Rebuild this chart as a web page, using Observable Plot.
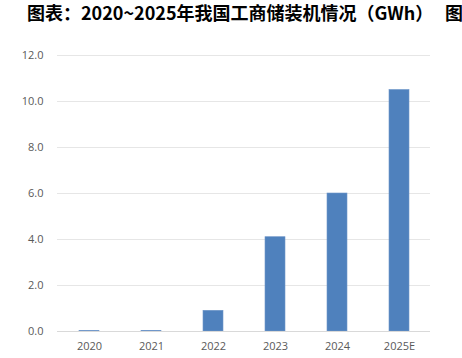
<!DOCTYPE html>
<html><head><meta charset="utf-8">
<script src="https://cdn.jsdelivr.net/npm/d3@7"></script>
<script src="https://cdn.jsdelivr.net/npm/@observablehq/plot@0.6"></script>
<style>
body{margin:0;background:#fff;width:462px;height:358px;overflow:hidden;position:relative;}
#title{position:relative;height:40px;font-family:"Noto Sans CJK SC",sans-serif;font-weight:bold;font-size:18px;color:#000;white-space:nowrap;}
#title span{position:absolute;top:0px;line-height:24px;}
</style></head>
<body>
<div id="title"><span style="left:27px">图表：2020~2025年我国工商储装机情况（GWh）</span><span style="left:445px">图</span></div>
<div id="chart"></div>
<script>
const years = ["2020","2021","2022","2023","2024","2025E"];
const capacity = [0.02, 0.03, 0.9, 4.1, 6.0, 10.5];
const yTicks = [0,2,4,6,8,10,12];
const data = years.map((y,i)=>({year:y, value:capacity[i]}));
const chart = Plot.plot({
  width:462, height:318,
  marginTop:15, marginBottom:27, marginLeft:57, marginRight:32,
  style:{fontFamily:"'Open Sans', sans-serif", fontSize:"11px", color:"#595959", background:"#fff"},
  x:{domain:years, paddingInner:0.68, paddingOuter:0.34, label:null, tickSize:0, tickPadding:11},
  y:{domain:[0,12], ticks:yTicks, tickFormat:d=>d.toFixed(1), label:null, tickSize:0, tickPadding:14},
  marks:[
    Plot.gridY(yTicks,{stroke:"#e6e6e6", strokeOpacity:1, strokeWidth:1.2}),
    Plot.barY(data,{x:"year", y:"value", fill:"#4f81bd", stroke:"#6f96c9", strokeWidth:0.6}),
    Plot.ruleY([0],{stroke:"#d9d9d9", strokeWidth:1.2})
  ]
});
document.getElementById("chart").appendChild(chart);
</script>
</body></html>
